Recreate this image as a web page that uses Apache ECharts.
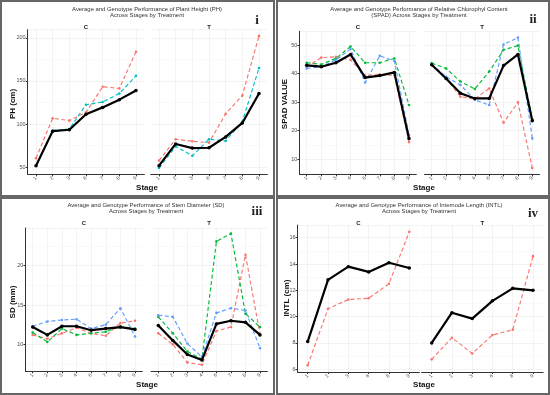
<!DOCTYPE html>
<html><head><meta charset="utf-8">
<script src="https://cdn.jsdelivr.net/npm/echarts@6/dist/echarts.min.js"></script>
<style>html,body{margin:0;padding:0;background:#fff}#c{width:550px;height:395px}</style>
</head><body><div id="c"></div><script>
// ---------- DATA ----------
const stagesPH = ['1','2','3','6','7','8','9'];
const phC_mean = [51.5, 91.7, 93.3, 111.4, 119.3, 128.3, 139.0];
const phC_red  = [60.2, 106.7, 103.9, 113.5, 143.3, 141.3, 184.0];
const phC_teal = [51.2, 92.5, 94.1, 122.4, 125.6, 135.4, 156.0];
const phT_mean = [51.6, 76.8, 72.0, 72.4, 85.0, 101.2, 135.4];
const phT_red  = [57.5, 82.3, 79.9, 78.3, 111.8, 133.0, 202.4];
const phT_teal = [48.8, 74.0, 63.0, 82.3, 80.3, 102.8, 165.0];

const stagesSPAD = ['1','2','3','4','6','7','8','9'];
const spC_mean  = [42.9, 42.4, 43.8, 46.7, 38.6, 39.3, 40.4, 17.3];
const spC_red   = [42.3, 45.6, 45.9, 44.8, 39.3, 39.7, 39.3, 16.0];
const spC_green = [43.8, 43.2, 45.3, 49.5, 43.8, 43.8, 45.3, 29.0];
const spC_blue  = [41.8, 42.3, 44.8, 48.6, 36.9, 46.2, 44.4, 18.5];
const spT_mean  = [43.1, 38.3, 33.1, 31.3, 31.3, 42.8, 46.7, 23.5];
const spT_red   = [43.2, 38.3, 31.9, 31.1, 34.8, 22.8, 29.9, 6.9];
const spT_green = [43.7, 41.8, 37.2, 34.6, 40.7, 48.3, 49.8, 24.0];
const spT_blue  = [43.2, 38.9, 36.0, 30.8, 29.0, 50.2, 52.6, 17.3];

const stagesSD = ['1','2','3','4','6','7','8','9'];
const sdC_mean  = [12.2, 11.2, 12.3, 12.3, 11.8, 12.0, 12.2, 11.9];
const sdC_red   = [11.2, 10.7, 11.4, 12.1, 11.4, 11.1, 12.7, 13.0];
const sdC_green = [11.5, 10.3, 12.0, 11.2, 11.4, 11.6, 12.3, 12.0];
const sdC_blue  = [12.3, 12.9, 13.1, 13.2, 12.0, 12.5, 14.6, 11.0];
const sdT_mean  = [12.4, 10.5, 8.7, 8.0, 12.6, 13.0, 12.8, 11.2];
const sdT_red   = [11.4, 10.0, 7.7, 7.4, 11.7, 12.2, 21.4, 11.3];
const sdT_green = [13.5, 11.4, 9.1, 8.1, 23.1, 24.1, 13.9, 12.2];
const sdT_blue  = [13.7, 13.5, 10.1, 8.4, 14.0, 14.6, 14.3, 9.5];

const stagesINTL = ['1','2','3','6','8','9'];
const inC_mean = [8.1, 12.8, 13.8, 13.4, 14.1, 13.7];
const inC_red  = [6.3, 10.6, 11.3, 11.4, 12.5, 16.45];
const inT_mean = [8.0, 10.3, 9.85, 11.2, 12.15, 12.0];
const inT_red  = [6.75, 8.4, 7.2, 8.6, 9.0, 14.6];

// ---------- STYLE ----------
const RED = '#F8766D', TEAL = '#00BFC4', GREEN = '#00BA38', BLUE = '#619CFF';
const FONT = '"Liberation Sans", Arial, sans-serif';
const GRIDC = '#ebebeb';

const chart = echarts.init(document.getElementById('c'), null, {renderer: 'canvas'});
const grids = [], xAxes = [], yAxes = [], series = [], graphics = [];

function facet(stages, c0, c1, yTop, yBot, ymin, ymax, split, isLeft, lines) {
  const n = stages.length;
  const unit = (c1 - c0) / (n - 1);
  const gi = grids.length;
  grids.push({left: c0 - unit / 2, top: yTop, width: unit * n, height: yBot - yTop, containLabel: false});
  xAxes.push({
    type: 'category', gridIndex: gi, data: stages, boundaryGap: true,
    axisLine: {show: true, lineStyle: {color: '#333', width: 1}},
    axisTick: {show: true, alignWithLabel: true, length: 2, lineStyle: {color: '#333'}},
    axisLabel: {rotate: 45, fontSize: 5, margin: 3, color: '#4d4d4d', fontFamily: FONT},
    splitLine: {show: true, alignWithLabel: true, lineStyle: {color: GRIDC, width: 0.6}}
  });
  yAxes.push({
    type: 'value', gridIndex: gi, min: ymin, max: ymax, splitNumber: split,
    axisLine: {show: isLeft, lineStyle: {color: '#333', width: 1}},
    axisTick: {show: isLeft, length: 2, lineStyle: {color: '#333'}},
    axisLabel: {show: isLeft, fontSize: 5.5, margin: 2, color: '#4d4d4d', fontFamily: FONT,
                showMinLabel: false, showMaxLabel: false},
    splitLine: {show: true, lineStyle: {color: GRIDC, width: 0.6}},
    minorTick: {show: false, splitNumber: 2},
    minorSplitLine: {show: true, lineStyle: {color: '#f3f3f3', width: 0.5}}
  });
  lines.forEach(l => {
    const isMean = l.mean;
    series.push({
      type: 'line', xAxisIndex: gi, yAxisIndex: gi, data: l.data,
      symbol: 'circle', symbolSize: isMean ? 3.5 : 2.6, showSymbol: true,
      silent: true, animation: false, z: isMean ? 5 : 3,
      lineStyle: isMean ? {color: '#000', width: 2.2} : {color: l.color, width: 1.15, type: [4, 2.5]},
      itemStyle: {color: isMean ? '#000' : l.color}
    });
  });
  return {cx: c0 - unit / 2 + unit * n / 2};
}

function txt(text, x, y, size, opts) {
  opts = opts || {};
  graphics.push({
    type: 'text', x: x, y: y, rotation: opts.rot || 0, silent: true,
    style: {text: text, fontSize: size, fontWeight: opts.bold ? 'bold' : 'normal',
            fontFamily: opts.family || FONT, fill: opts.color || '#222',
            align: 'center', verticalAlign: 'middle', lineHeight: size * 1.05}
  });
}

function frame(x, y, w, h) {
  graphics.push({type: 'rect', shape: {x: x, y: y, width: w, height: h}, silent: true,
                 style: {fill: 'none', stroke: '#666', lineWidth: 2}});
}

// Panel i : PH
let a = facet(stagesPH, 36, 136, 29.7, 174.4, 41.4, 209.6, 4, true, [
  {data: phC_red, color: RED}, {data: phC_teal, color: TEAL}, {data: phC_mean, mean: true}]);
let b = facet(stagesPH, 159, 259, 29.7, 174.4, 41.4, 209.6, 4, false, [
  {data: phT_red, color: RED}, {data: phT_teal, color: TEAL}, {data: phT_mean, mean: true}]);
txt('Average and Genotype Performance of Plant Height (PH)\nAcross Stages by Treatment', 147, 12.3, 5.9, {color: '#333'});
txt('C', a.cx, 27, 6, {bold: true}); txt('T', b.cx, 27, 6, {bold: true});
txt('i', 257, 21, 13, {bold: true, family: '"Liberation Serif", "Times New Roman", serif'});
txt('PH (cm)', 12.5, 104, 8, {bold: true, rot: Math.PI / 2, color: '#111'});
txt('Stage', 147, 187.5, 8, {bold: true, color: '#111'});

// Panel ii : SPAD
a = facet(stagesSPAD, 306.7, 409, 31.3, 174.4, 4.7, 54.8, 5, true, [
  {data: spC_red, color: RED}, {data: spC_green, color: GREEN}, {data: spC_blue, color: BLUE}, {data: spC_mean, mean: true}]);
b = facet(stagesSPAD, 431.7, 532.3, 31.3, 174.4, 4.7, 54.8, 5, false, [
  {data: spT_red, color: RED}, {data: spT_green, color: GREEN}, {data: spT_blue, color: BLUE}, {data: spT_mean, mean: true}]);
txt('Average and Genotype Performance of Relative Chlorophyl Content\n(SPAD) Across Stages by Treatment', 419, 12.6, 5.9, {color: '#333'});
txt('C', a.cx, 27, 6, {bold: true}); txt('T', b.cx, 27, 6, {bold: true});
txt('ii', 533, 20, 13, {bold: true, family: '"Liberation Serif", "Times New Roman", serif'});
txt('SPAD VALUE', 285, 104, 8, {bold: true, rot: Math.PI / 2, color: '#111'});
txt('Stage', 424, 187.5, 8, {bold: true, color: '#111'});

// Panel iii : SD
a = facet(stagesSD, 32.7, 135, 228, 371.3, 6.57, 24.8, 4, true, [
  {data: sdC_red, color: RED}, {data: sdC_green, color: GREEN}, {data: sdC_blue, color: BLUE}, {data: sdC_mean, mean: true}]);
b = facet(stagesSD, 158.3, 260, 228, 371.3, 6.57, 24.8, 4, false, [
  {data: sdT_red, color: RED}, {data: sdT_green, color: GREEN}, {data: sdT_blue, color: BLUE}, {data: sdT_mean, mean: true}]);
txt('Average and Genotype Performance of Stem Diameter (SD)\nAcross Stages by Treatment', 146, 208.5, 5.9, {color: '#333'});
txt('C', a.cx, 223, 6, {bold: true}); txt('T', b.cx, 223, 6, {bold: true});
txt('iii', 257, 212, 13, {bold: true, family: '"Liberation Serif", "Times New Roman", serif'});
txt('SD (mm)', 12.5, 302, 8, {bold: true, rot: Math.PI / 2, color: '#111'});
txt('Stage', 147, 385, 8, {bold: true, color: '#111'});

// Panel iv : INTL
a = facet(stagesINTL, 307.7, 409.3, 225.1, 372, 5.79, 16.96, 5, true, [
  {data: inC_red, color: RED}, {data: inC_mean, mean: true}]);
b = facet(stagesINTL, 431.7, 533, 225.1, 372, 5.79, 16.96, 5, false, [
  {data: inT_red, color: RED}, {data: inT_mean, mean: true}]);
txt('Average and Genotype Performance of Internode Length (INTL)\nAcross Stages by Treatment', 419, 208.5, 5.9, {color: '#333'});
txt('C', a.cx, 223, 6, {bold: true}); txt('T', b.cx, 223, 6, {bold: true});
txt('iv', 533, 214, 13, {bold: true, family: '"Liberation Serif", "Times New Roman", serif'});
txt('INTL (cm)', 286.5, 298, 8, {bold: true, rot: Math.PI / 2, color: '#111'});
txt('Stage', 424, 385, 8, {bold: true, color: '#111'});

// Panel frames
frame(1, 1, 273, 195);
frame(277, 1, 272, 195);
frame(1, 198, 273, 196);
frame(277, 198, 272, 196);

chart.setOption({
  animation: false,
  backgroundColor: '#fff',
  grid: grids, xAxis: xAxes, yAxis: yAxes, series: series,
  graphic: {elements: graphics}
});
</script></body></html>
